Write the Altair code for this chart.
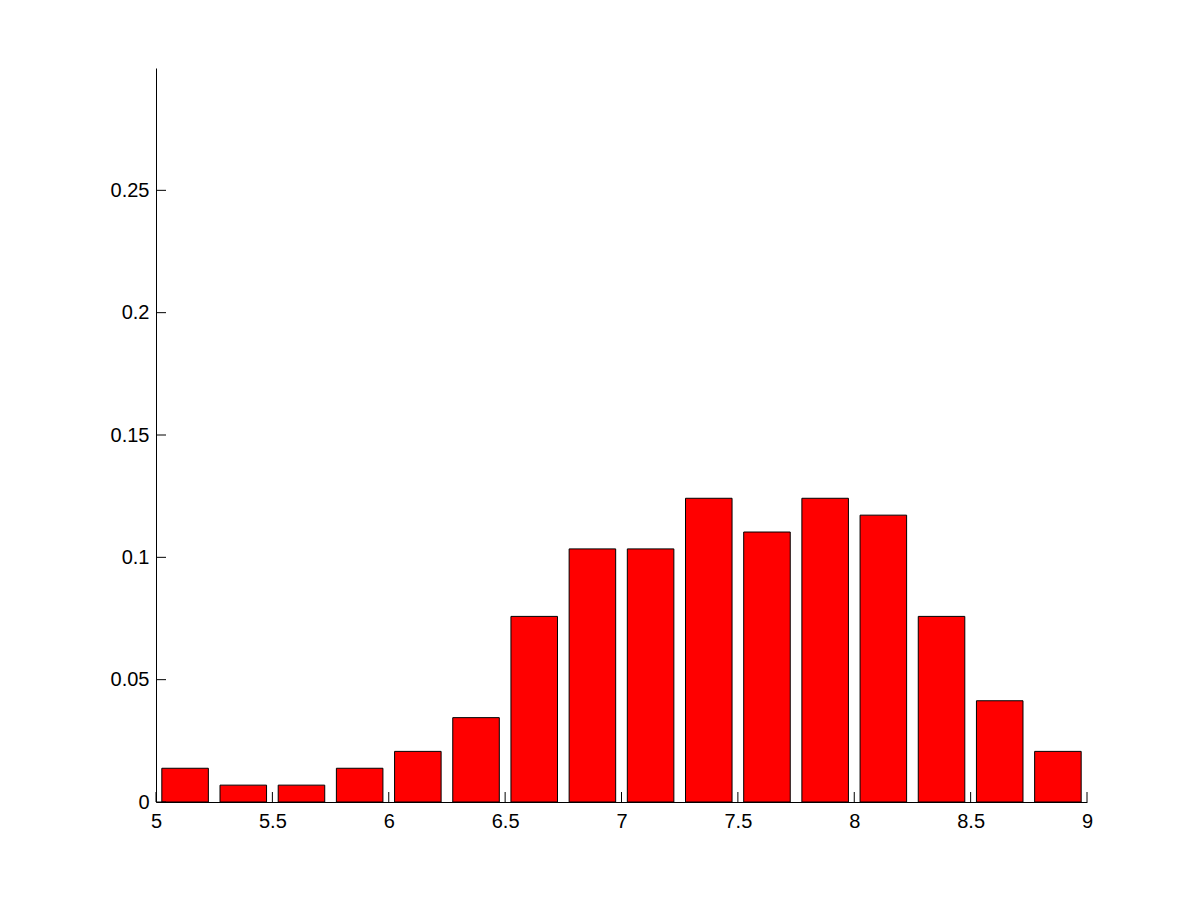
import altair as alt
import pandas as pd

# Data (bin centres and relative frequencies)
centers = [5.125, 5.375, 5.625, 5.875, 6.125, 6.375, 6.625, 6.875,
           7.125, 7.375, 7.625, 7.875, 8.125, 8.375, 8.625, 8.875]
counts = [2, 1, 1, 2, 3, 5, 11, 15, 15, 18, 16, 18, 17, 11, 6, 3]
total = 145
x_ticks = [5, 5.5, 6, 6.5, 7, 7.5, 8, 8.5, 9]
y_ticks = [0, 0.05, 0.1, 0.15, 0.2, 0.25]

half = 0.1
bars = pd.DataFrame({
    "lo": [c - half for c in centers],
    "hi": [c + half for c in centers],
    "freq": [n / total for n in counts],
})

W, H = 931, 734
FONT = "Liberation Sans"

xscale = alt.Scale(domain=[5, 9], nice=False, zero=False)
yscale = alt.Scale(domain=[0, 0.3], nice=False)

bar_layer = alt.Chart(bars).mark_rect(
    color="#ff0000", stroke="black", strokeWidth=1
).encode(
    x=alt.X("lo:Q", scale=xscale,
            axis=alt.Axis(values=x_ticks, format="~g", title=None, grid=False,
                          tickSize=0, labelPadding=9, domainColor="black",
                          labelFlush=False, labelOverlap=False,
                          labelFont=FONT, labelFontSize=20, labelColor="black")),
    x2="hi:Q",
    y=alt.Y("freq:Q", scale=yscale,
            axis=alt.Axis(values=y_ticks, format="~g", title=None, grid=False,
                          tickSize=0, labelPadding=7, domainColor="black",
                          labelFlush=False, labelOverlap=False,
                          labelFont=FONT, labelFontSize=20, labelColor="black")),
    y2=alt.datum(0),
)

xt = pd.DataFrame({"v": x_ticks})
yt = pd.DataFrame({"v": y_ticks})

xtick_layer = alt.Chart(xt).mark_rule(color="black", strokeWidth=1).encode(
    x=alt.X("v:Q", scale=xscale),
    y=alt.value(H),
    y2=alt.value(H - 10),
)
ytick_layer = alt.Chart(yt).mark_rule(color="black", strokeWidth=1).encode(
    y=alt.Y("v:Q", scale=yscale),
    x=alt.value(0),
    x2=alt.value(10),
)

chart = alt.layer(bar_layer, xtick_layer, ytick_layer).properties(
    width=W, height=H,
    autosize=alt.AutoSizeParams(type="none"),
    padding={"left": 148, "top": 60, "right": 100, "bottom": 90},
    background="white",
).configure_view(stroke=None)

chart.save("out.html", embed_options={"renderer": "svg", "actions": False})
